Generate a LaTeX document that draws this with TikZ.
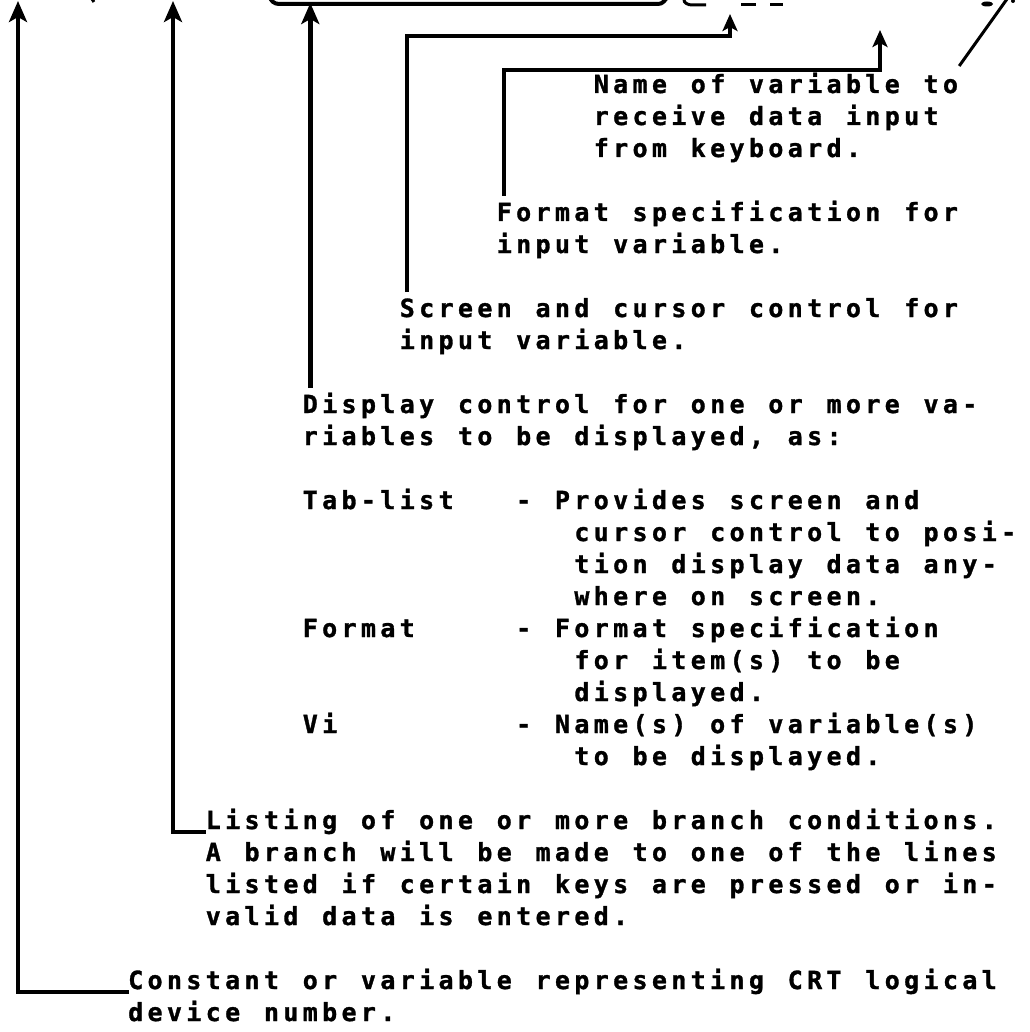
\documentclass[tikz,border=0pt]{standalone}
\usepackage{fontspec}
\usetikzlibrary{arrows.meta}
\newfontfamily\twfam{DejaVu Sans Mono}[BoldFeatures={FakeBold=1.2}]
\newlength\twpitch
\setlength\twpitch{19.4pt}
\ExplSyntaxOn
\NewDocumentCommand \tw { m }
  { \str_map_inline:nn {#1} { \makebox[\twpitch][c]{##1} } }
\ExplSyntaxOff
\newcommand\cx[1]{126+19.4*(#1)}
\newcommand\ry[1]{93+32.0*(#1-1)}
\tikzset{
  txt/.style={anchor=base west, inner sep=0pt, outer sep=0pt,
    font=\twfam\bfseries\fontsize{25}{29}\selectfont},
  arr/.style={line width=4.5pt, -{Stealth[length=21pt,width=18pt,inset=5pt]}},
  sarr/.style={line width=4pt, -{Stealth[length=17pt,width=15pt,inset=4pt]}},
  frag/.style={line width=3pt},
}
\begin{document}
\begin{tikzpicture}[x=1pt,y=-1pt]
\useasboundingbox (0,0) rectangle (1029,1032);
% ---- text blocks
\node[txt] (nm1) at ({\cx{24}},{\ry{1}}) {\tw{Name of variable to}};
\node[txt] (nm2) at ({\cx{24}},{\ry{2}}) {\tw{receive data input}};
\node[txt] (nm3) at ({\cx{24}},{\ry{3}}) {\tw{from keyboard.}};
\node[txt] (fs1) at ({\cx{19}},{\ry{5}}) {\tw{Format specification for}};
\node[txt] (fs2) at ({\cx{19}},{\ry{6}}) {\tw{input variable.}};
\node[txt] (sc1) at ({\cx{14}},{\ry{8}}) {\tw{Screen and cursor control for}};
\node[txt] (sc2) at ({\cx{14}},{\ry{9}}) {\tw{input variable.}};
\node[txt] (dc1) at ({\cx{9}},{\ry{11}}) {\tw{Display control for one or more va-}};
\node[txt] (dc2) at ({\cx{9}},{\ry{12}}) {\tw{riables to be displayed, as:}};
\node[txt] (tl0) at ({\cx{9}},{\ry{14}}) {\tw{Tab-list}};
\node[txt] (tl1) at ({\cx{20}},{\ry{14}}) {\tw{- Provides screen and}};
\node[txt] (tl2) at ({\cx{23}},{\ry{15}}) {\tw{cursor control to posi-}};
\node[txt] (tl3) at ({\cx{23}},{\ry{16}}) {\tw{tion display data any-}};
\node[txt] (tl4) at ({\cx{23}},{\ry{17}}) {\tw{where on screen.}};
\node[txt] (fm0) at ({\cx{9}},{\ry{18}}) {\tw{Format}};
\node[txt] (fm1) at ({\cx{20}},{\ry{18}}) {\tw{- Format specification}};
\node[txt] (fm2) at ({\cx{23}},{\ry{19}}) {\tw{for item(s) to be}};
\node[txt] (fm3) at ({\cx{23}},{\ry{20}}) {\tw{displayed.}};
\node[txt] (vi0) at ({\cx{9}},{\ry{21}}) {\tw{Vi}};
\node[txt] (vi1) at ({\cx{20}},{\ry{21}}) {\tw{- Name(s) of variable(s)}};
\node[txt] (vi2) at ({\cx{23}},{\ry{22}}) {\tw{to be displayed.}};
\node[txt] (ls1) at ({\cx{4}},{\ry{24}}) {\tw{Listing of one or more branch conditions.}};
\node[txt] (ls2) at ({\cx{4}},{\ry{25}}) {\tw{A branch will be made to one of the lines}};
\node[txt] (ls3) at ({\cx{4}},{\ry{26}}) {\tw{listed if certain keys are pressed or in-}};
\node[txt] (ls4) at ({\cx{4}},{\ry{27}}) {\tw{valid data is entered.}};
\node[txt] (cn1) at ({\cx{0}},{\ry{29}}) {\tw{Constant or variable representing CRT logical}};
\node[txt] (cn2) at ({\cx{0}},{\ry{30}}) {\tw{device number.}};
% ---- targets in the (cropped) statement line
\coordinate (tA1) at (18,1);
\coordinate (tA2) at (173,1);
\coordinate (tA3) at (310,3);
\coordinate (kB) at (730,36);
\coordinate (tB) at (730,14);
\coordinate (kC) at (880,70);
\coordinate (tC) at (880,30);
\coordinate (tN) at (1007,-1);
% ---- start points just above / beside the texts
\coordinate (sA1) at ([xshift=3pt,yshift=-3pt]cn1.base west);
\coordinate (sA2) at ([xshift=2pt,yshift=-3pt]ls1.base west);
\coordinate (sA3) at ([xshift=9.7pt,yshift=25pt]dc1.base west);
\coordinate (sB) at ([xshift=9.7pt,yshift=25pt]sc1.base west);
\coordinate (sC) at ([xshift=9.7pt,yshift=25pt]fs1.base west);
\coordinate (sN) at ([xshift=-1pt,yshift=27pt]nm1.base east);
% ---- connectors
\draw[arr] (sA1) -| (tA1);
\draw[arr] (sA2) -| (tA2);
\draw[arr] (sA3) -- (sA3 |- tA3);
\draw[sarr] (sB) |- (kB) -- (tB);
\draw[sarr] (sC) |- (kC) -- (tC);
\draw[line width=3pt] (sN) -- (tN);
% ---- bracket under the display list
\draw[line width=4pt] (270,-4) to[out=-90,in=180] (279,4) -- (658,4) to[out=0,in=-125] (668,-4);
% ---- cut-off fragments of the statement line
\draw[frag] (92,-1) -- (94,2);
\draw[frag] (684,-1) to[out=-100,in=180] (692,5) -- (706,5);
\draw[frag] (741,5) -- (756,5);
\draw[frag] (770,5) -- (783,5);
\fill (987,4) ellipse (6pt and 2.5pt);
\fill (1013,1) circle (2pt);
\end{tikzpicture}
\end{document}
